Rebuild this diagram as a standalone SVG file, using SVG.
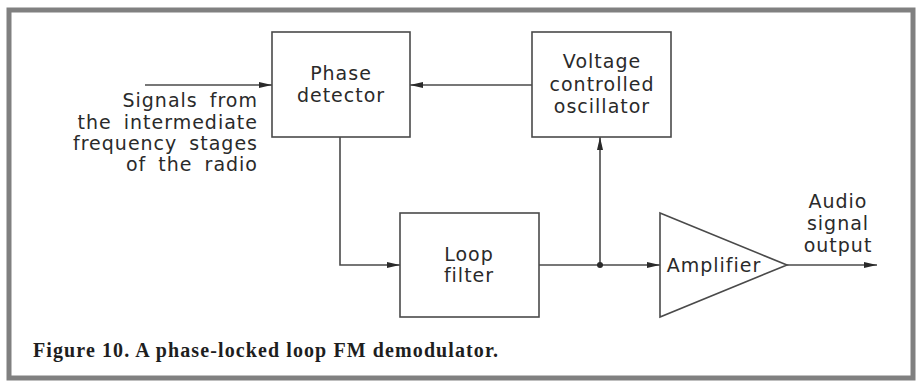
<svg xmlns="http://www.w3.org/2000/svg" width="921" height="381" viewBox="0 0 921 381">
<style>
.box{fill:#fff;stroke:#4a4a4a;stroke-width:1.6}
.ln{fill:none;stroke:#4a4a4a;stroke-width:1.6}
.t{font-family:"DejaVu Sans",sans-serif;font-size:19px;fill:#2a2a2a;text-anchor:middle;letter-spacing:1px;word-spacing:5px}
.r{text-anchor:end}
.cap{font-family:"Liberation Serif",serif;font-size:20px;font-weight:bold;fill:#1e1e1e;letter-spacing:1.1px}
</style>
<defs>
<marker id="ah" markerWidth="14" markerHeight="8" refX="13" refY="4" orient="auto" markerUnits="userSpaceOnUse">
<path d="M0,1 L13,4 L0,7 Z" fill="#2a2a2a"/>
</marker>
</defs>
<rect x="0" y="0" width="921" height="381" fill="#fff"/>
<rect x="9" y="10" width="904" height="368" fill="#fff" stroke="#808080" stroke-width="5"/>
<g id="connectors">
<line class="ln" x1="145" y1="85" x2="272" y2="85" marker-end="url(#ah)"/>
<line class="ln" x1="532" y1="85" x2="410" y2="85" marker-end="url(#ah)"/>
<polyline class="ln" points="340,137 340,265 400,265" marker-end="url(#ah)"/>
<line class="ln" x1="539" y1="265" x2="660" y2="265" marker-end="url(#ah)"/>
<line class="ln" x1="600" y1="265" x2="600" y2="137" marker-end="url(#ah)"/>
<line class="ln" x1="787" y1="265" x2="877" y2="265" marker-end="url(#ah)"/>
<circle cx="600" cy="265" r="3" fill="#2a2a2a"/>
</g>
<g id="input-label">
<text class="t r" x="258" y="107">Signals from</text>
<text class="t r" x="258" y="128.5">the intermediate</text>
<text class="t r" x="258" y="150">frequency stages</text>
<text class="t r" x="258" y="171">of the radio</text>
</g>
<g id="phase-detector">
<rect class="box" x="272" y="32" width="138" height="105"/>
<text class="t" x="341" y="80">Phase</text>
<text class="t" x="341" y="102">detector</text>
</g>
<g id="vco">
<rect class="box" x="532" y="32" width="139" height="105"/>
<text class="t" x="602" y="68">Voltage</text>
<text class="t" x="602" y="91">controlled</text>
<text class="t" x="602" y="113">oscillator</text>
</g>
<g id="loop-filter">
<rect class="box" x="400" y="213" width="139" height="104"/>
<text class="t" x="469" y="261">Loop</text>
<text class="t" x="469" y="282">filter</text>
</g>
<g id="amplifier">
<polygon class="box" points="660,213 787,265 660,317"/>
<text class="t" x="714" y="272">Amplifier</text>
</g>
<g id="output-label">
<text class="t" x="838" y="208">Audio</text>
<text class="t" x="838" y="230">signal</text>
<text class="t" x="838" y="252">output</text>
</g>
<text class="cap" x="33" y="357">Figure 10. A phase-locked loop FM demodulator.</text>
</svg>
